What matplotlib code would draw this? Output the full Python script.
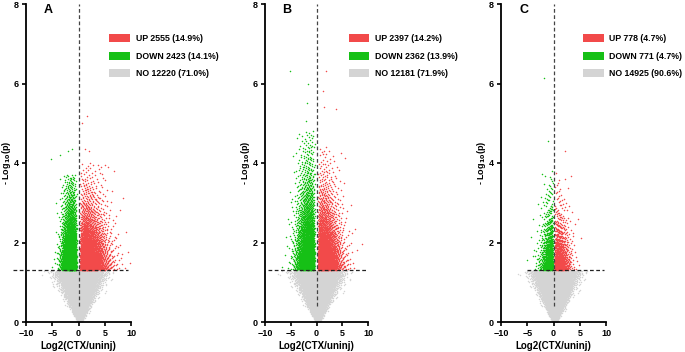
import numpy as np
import matplotlib
matplotlib.use("Agg")
import matplotlib.pyplot as plt
from matplotlib.patches import Rectangle

plt.rcParams['font.family'] = ['Liberation Sans', 'DejaVu Sans']
plt.rcParams['font.weight'] = 'bold'

# ---------------- data ----------------
panels = ["A", "B", "C"]
up_counts = [2555, 2397, 778]
down_counts = [2423, 2362, 771]
no_counts = [12220, 12181, 14925]
up_pct = ["14.9%", "14.2%", "4.7%"]
down_pct = ["14.1%", "13.9%", "4.7%"]
no_pct = ["71.0%", "71.9%", "90.6%"]

# shape of each cloud: |log2FC| (min, scale, shape) and height (mean above threshold, max)
up_fc_min = [0.25, 0.25, 0.12]
up_fc_scale = [2.4, 2.0, 1.4]
up_fc_shape = [1.5, 1.5, 1.5]
up_y_mean = [0.60, 0.65, 0.50]
up_y_max = [4.0, 4.4, 3.8]
down_fc_min = [0.25, 0.25, 0.10]
down_fc_scale = [1.6, 1.9, 1.0]
down_fc_shape = [2.0, 1.8, 1.3]
down_y_mean = [0.65, 0.85, 0.55]
down_y_max = [3.7, 4.8, 3.8]
no_width0 = [0.12, 0.12, 0.12]
no_width1 = [1.55, 1.60, 1.45]

# isolated points
out_up_x = [[1.7, 0.6, 1.3, 2.0, 4.2, 5.1], [1.8, 1.25, 3.8, 1.5], [2.2]]
out_up_y = [[5.18, 5.0, 4.35, 4.3, 3.9, 3.95], [6.32, 5.82, 5.35, 5.4], [4.29]]
out_dn_x = [[-5.2, -2.0, -1.3, -3.5], [-5.24, -1.6, -1.9, -2.0], [-1.9, -1.14]]
out_dn_y = [[4.1, 4.3, 4.35, 4.2], [6.32, 6.0, 5.5, 5.05], [6.14, 4.56]]

# threshold line x-range per panel
hline_x0 = [-12.5, -9.5, -5.0]
hline_x1 = [9.5, 9.6, 9.6]

x_ticks = [-10, -5, 0, 5, 10]
y_ticks = [0, 2, 4, 6, 8]
threshold = 1.3

RED = "#f24a4a"
GREEN = "#16c016"
GRAY = "#d4d4d4"


# ---------------- helpers (deterministic low-discrepancy sampling) ----------------
def r2(n, offset):
    g = 1.32471795724474602596
    k = np.arange(n) + offset
    u1 = (0.5 + k / g) % 1.0
    u2 = (0.5 + k / g ** 2) % 1.0
    return np.clip(u1, 1e-4, 1 - 1e-4), np.clip(u2, 1e-4, 1 - 1e-4)


def norm_ppf(p):
    a = [-3.969683028665376e+01, 2.209460984245205e+02, -2.759285104469687e+02,
         1.383577518672690e+02, -3.066479806614716e+01, 2.506628277459239e+00]
    b = [-5.447609879822406e+01, 1.615858368580409e+02, -1.556989798598866e+02,
         6.680131188771972e+01, -1.328068155288572e+01]
    c = [-7.784894002430293e-03, -3.223964580411365e-01, -2.400758277161838e+00,
         -2.549732539343734e+00, 4.374664141464968e+00, 2.938163982698783e+00]
    d = [7.784695709041462e-03, 3.224671290700398e-01, 2.445134137142996e+00,
         3.754408661907416e+00]
    p = np.asarray(p, float)
    out = np.empty_like(p)
    plow = 0.02425
    lo = p < plow
    hi = p > 1 - plow
    mid = ~(lo | hi)
    q = np.sqrt(-2 * np.log(p[lo]))
    out[lo] = (((((c[0]*q+c[1])*q+c[2])*q+c[3])*q+c[4])*q+c[5]) / ((((d[0]*q+d[1])*q+d[2])*q+d[3])*q+1)
    q = np.sqrt(-2 * np.log(1 - p[hi]))
    out[hi] = -(((((c[0]*q+c[1])*q+c[2])*q+c[3])*q+c[4])*q+c[5]) / ((((d[0]*q+d[1])*q+d[2])*q+d[3])*q+1)
    q = p[mid] - 0.5
    r = q * q
    out[mid] = (((((a[0]*r+a[1])*r+a[2])*r+a[3])*r+a[4])*r+a[5])*q / (((((b[0]*r+b[1])*r+b[2])*r+b[3])*r+b[4])*r+1)
    return out


def weibull_ppf(u, lam, k):
    return lam * (-np.log(1 - u)) ** (1.0 / k)


def trunc_exp_ppf(u, mean, span):
    return -mean * np.log(1 - u * (1 - np.exp(-span / mean)))


# ---------------- figure ----------------
fig = plt.figure(figsize=(6.85, 3.52), dpi=100)
W, H = 685.0, 352.0
ax_px = [(26, 105), (265, 103), (501, 105)]
legend_rect = [(5.8, 9.8, 10.9), (6.3, 10.1, 11.4), (5.7, 9.6, 10.6)]

for i, name in enumerate(panels):
    left, width = ax_px[i]
    ax = fig.add_axes([left / W, 1 - 322 / H, width / W, 318 / H])

    # not significant
    u1, u2 = r2(no_counts[i], 1000 * i + 17)
    y = threshold * u2 ** 0.85
    y = np.minimum(y, threshold - 0.005)
    x = 0.25 + norm_ppf(u1) * (no_width0[i] + no_width1[i] * y)
    ax.scatter(x, y, s=1.1, c=GRAY, linewidths=0, zorder=1)

    # down
    u1, u2 = r2(down_counts[i], 50000 + 777 * i)
    xd = -(down_fc_min[i] + weibull_ppf(u1, down_fc_scale[i], down_fc_shape[i]))
    xd = np.maximum(xd, -9.8)
    yd = threshold + 0.01 + trunc_exp_ppf(u2, down_y_mean[i], down_y_max[i] - threshold)
    xd = np.concatenate([xd, out_dn_x[i]])
    yd = np.concatenate([yd, out_dn_y[i]])
    ax.scatter(xd, yd, s=1.2, c=GREEN, linewidths=0, zorder=2)

    # up
    u1, u2 = r2(up_counts[i], 90000 + 555 * i)
    xu = up_fc_min[i] + weibull_ppf(u1, up_fc_scale[i], up_fc_shape[i])
    xu = np.minimum(xu, 9.8)
    yu = threshold + 0.01 + trunc_exp_ppf(u2, up_y_mean[i], up_y_max[i] - threshold)
    xu = np.concatenate([xu, out_up_x[i]])
    yu = np.concatenate([yu, out_up_y[i]])
    ax.scatter(xu, yu, s=1.2, c=RED, linewidths=0, zorder=3)

    # reference lines
    ax.plot([hline_x0[i], hline_x1[i]], [threshold, threshold], color="#222222",
            lw=0.9, dashes=(3, 2), zorder=5, clip_on=False)
    ax.plot([0, 0], [0.4, 8], color="#444444", lw=0.9, dashes=(3, 2), zorder=5)

    ax.set_xlim(-10, 10)
    ax.set_ylim(0, 8)
    ax.set_xticks(x_ticks)
    ax.set_yticks(y_ticks)
    ax.spines['top'].set_visible(False)
    ax.spines['right'].set_visible(False)
    for s in ['left', 'bottom']:
        ax.spines[s].set_linewidth(1.3)
    ax.tick_params(length=3, width=1.2, labelsize=6.5, pad=2)
    for lab in ax.get_xticklabels() + ax.get_yticklabels():
        lab.set_fontweight('bold')
    ax.set_xlabel("Log2(CTX/uninj)", fontsize=7, fontweight='bold', labelpad=2)
    ax.set_ylabel(r"- Log$_{\mathbf{10}}$(p)", fontsize=6.5, fontweight='bold')
    ax.yaxis.set_label_coords(-12.5 / width, 0.5)

    ax.text(-5.7, 7.85, name, fontsize=9, fontweight='bold', ha='center', va='center')

    # legend
    rx0, rx1, tx = legend_rect[i]
    labels = [f"UP {up_counts[i]} ({up_pct[i]})",
              f"DOWN {down_counts[i]} ({down_pct[i]})",
              f"NO {no_counts[i]} ({no_pct[i]})"]
    cols = [RED, GREEN, GRAY]
    rows_y = [7.14, 6.69, 6.26]
    for ry, lab, col in zip(rows_y, labels, cols):
        ax.add_patch(Rectangle((rx0, ry - 0.105), rx1 - rx0, 0.21, facecolor=col,
                               edgecolor='none', clip_on=False, zorder=6))
        ax.text(tx, ry, lab, fontsize=6.3, fontweight='bold', ha='left', va='center',
                clip_on=False)

fig.savefig("out.png", dpi=100)
